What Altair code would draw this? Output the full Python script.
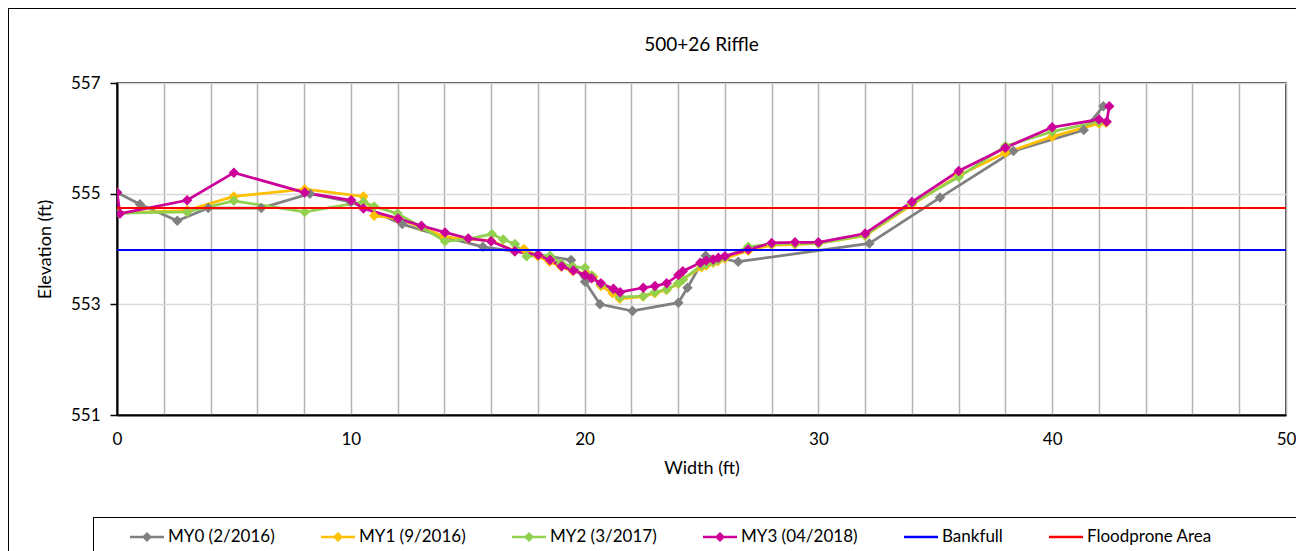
import altair as alt
import pandas as pd

# ---- data ----
my0_x = [0.0, 0.98, 2.58, 3.9, 6.17, 8.25, 10.0, 12.2, 14.0, 15.65, 17.0, 18.0, 19.42, 20.02, 20.66, 22.05, 24.01, 24.4, 25.18, 26.57, 32.18, 35.2, 38.34, 41.35, 42.19]
my0_y = [555.02, 554.81, 554.51, 554.74, 554.74, 555.0, 554.85, 554.45, 554.22, 554.04, 553.96, 553.9, 553.80, 553.41, 553.0, 552.88, 553.03, 553.3, 553.88, 553.77, 554.10, 554.93, 555.77, 556.15, 556.58]

my1_x = [0.1, 3.0, 5.0, 8.03, 10.54, 11.0, 12.0, 13.0, 14.0, 15.0, 16.0, 17.0, 17.4, 18.0, 18.5, 19.0, 19.5, 20.1, 20.37, 20.7, 21.2, 21.5, 22.5, 23.0, 23.5, 24.0, 24.2, 25.0, 25.2, 25.5, 25.7, 26.0, 27.0, 28.0, 29.0, 30.0, 32.0, 34.0, 36.0, 38.0, 40.0, 42.0, 42.3]
my1_y = [554.65, 554.70, 554.95, 555.08, 554.95, 554.60, 554.55, 554.40, 554.22, 554.18, 554.15, 553.97, 554.0, 553.87, 553.77, 553.68, 553.60, 553.55, 553.5, 553.33, 553.2, 553.1, 553.14, 553.2, 553.26, 553.37, 553.45, 553.67, 553.7, 553.75, 553.78, 553.83, 553.97, 554.07, 554.08, 554.1, 554.24, 554.8, 555.33, 555.74, 556.03, 556.27, 556.28]

my2_x = [0.1, 3.0, 5.0, 8.03, 10.54, 11.0, 12.0, 13.0, 14.03, 15.0, 16.03, 16.52, 17.02, 17.52, 18.52, 19.0, 19.5, 20.02, 20.3, 20.7, 21.23, 21.52, 22.51, 23.0, 23.51, 24.01, 24.2, 25.0, 25.2, 25.5, 25.7, 26.0, 27.0, 28.0, 29.0, 30.0, 32.0, 34.0, 36.0, 38.0, 40.0, 42.0]
my2_y = [554.65, 554.67, 554.87, 554.67, 554.85, 554.77, 554.64, 554.40, 554.14, 554.18, 554.27, 554.17, 554.09, 553.87, 553.88, 553.74, 553.68, 553.66, 553.52, 553.36, 553.27, 553.13, 553.15, 553.22, 553.27, 553.38, 553.45, 553.7, 553.73, 553.77, 553.8, 553.85, 554.04, 554.09, 554.1, 554.1, 554.25, 554.82, 555.3, 555.86, 556.12, 556.3]

my3_x = [0.0, 0.13, 3.0, 5.0, 8.03, 10.02, 10.54, 12.02, 13.02, 14.03, 15.03, 16.0, 17.02, 18.02, 18.52, 19.02, 19.52, 20.02, 20.3, 20.7, 21.23, 21.52, 22.51, 23.01, 23.51, 24.01, 24.2, 24.95, 25.2, 25.5, 25.72, 26.0, 27.0, 28.0, 29.0, 30.0, 32.0, 34.0, 36.0, 38.0, 40.0, 42.0, 42.33, 42.44]
my3_y = [555.02, 554.64, 554.88, 555.38, 555.02, 554.88, 554.73, 554.55, 554.42, 554.3, 554.19, 554.14, 553.96, 553.89, 553.80, 553.69, 553.61, 553.53, 553.47, 553.38, 553.28, 553.22, 553.30, 553.33, 553.38, 553.53, 553.6, 553.75, 553.79, 553.81, 553.84, 553.87, 553.99, 554.11, 554.12, 554.12, 554.28, 554.85, 555.41, 555.83, 556.2, 556.34, 556.30, 556.58]

series_names = ["MY0 (2/2016)", "MY1 (9/2016)", "MY2 (3/2017)", "MY3 (04/2018)"]
ref_names = ["Bankfull", "Floodprone Area"]
ref_values = [553.98, 554.74]
all_names = series_names + ref_names
colors = ["#808080", "#FFC000", "#92D050", "#CC0099", "#0000FF", "#FF0000"]

chart_title = ["500+26 Riffle"]
x_ticks = list(range(0, 51, 2))
y_ticks = [551, 553, 555, 557]

# ---- tables ----
rows = []
for name, xs, ys in zip(series_names, [my0_x, my1_x, my2_x, my3_x], [my0_y, my1_y, my2_y, my3_y]):
    for i, (a, b) in enumerate(zip(xs, ys)):
        rows.append({"series": name, "x": a, "y": b, "idx": i})
df = pd.DataFrame(rows)
ref_df = pd.DataFrame({"series": ref_names, "y": ref_values})
legend_df = pd.DataFrame({"series": all_names})
title_df = pd.DataFrame({"t": chart_title})

line_sym = "M-1,-0.08L1,-0.08L1,0.08L-1,0.08Z"
diam_sym = line_sym + "M0,-0.3L0.3,0L0,0.3L-0.3,0Z"
shapes = [diam_sym] * 4 + [line_sym] * 2

FONT = "Lato"

xscale = alt.Scale(domain=[0, 50], nice=False, zero=False)
yscale = alt.Scale(domain=[551, 557], nice=False, zero=False)
cscale = alt.Scale(domain=all_names, range=colors)
sscale = alt.Scale(domain=all_names, range=shapes)

xaxis = alt.Axis(values=x_ticks, labelExpr="datum.value % 10 == 0 ? datum.label : ''",
                 grid=True, gridColor="#b3b3b3", gridWidth=1.5, ticks=False,
                 domainColor="black", domainWidth=2, labelFontSize=17, labelColor="black",
                 labelPadding=16, title="Width (ft)", titleFontSize=18, titleFontWeight="normal",
                 titleColor="black", titlePadding=12, labelFlush=False)
yaxis = alt.Axis(values=y_ticks, format="d", grid=True, gridColor="#d9d9d9", gridWidth=1.5,
                 ticks=True, tickColor="black", tickSize=7, tickWidth=1.5,
                 domainColor="black", domainWidth=2, labelFontSize=17, labelColor="black",
                 labelPadding=10, title="Elevation (ft)", titleFontSize=18, titleFontWeight="normal",
                 titleColor="black", titlePadding=16)

legend_spec = alt.Legend(
    title=None, orient="none", legendX=13, legendY=437, direction="horizontal", padding=0,
    symbolSize=1156, symbolOpacity=1, symbolStrokeWidth=0, labelFontSize=17,
    labelFont=FONT, labelColor="black", columnPadding=46, labelOffset=4, labelLimit=300)

base = alt.Chart(df)

lines = base.mark_line(strokeWidth=2.75, clip=True).encode(
    x=alt.X("x:Q", scale=xscale, axis=xaxis),
    y=alt.Y("y:Q", scale=yscale, axis=yaxis),
    color=alt.Color("series:N", scale=cscale),
    detail="series:N",
    order="idx:Q",
)
points = base.mark_point(shape="diamond", filled=True, size=110, opacity=1, clip=True).encode(
    x=alt.X("x:Q", scale=xscale),
    y=alt.Y("y:Q", scale=yscale),
    color=alt.Color("series:N", scale=cscale),
)
rules = alt.Chart(ref_df).mark_rule(strokeWidth=2).encode(
    y=alt.Y("y:Q", scale=yscale),
    color=alt.Color("series:N", scale=cscale),
)
legend_layer = alt.Chart(legend_df).mark_point(filled=True, opacity=0).encode(
    x=alt.value(0), y=alt.value(0),
    color=alt.Color("series:N", scale=cscale, legend=legend_spec),
    shape=alt.Shape("series:N", scale=sscale, legend=legend_spec),
)

frame = alt.Chart(legend_df).mark_rect(fill=None, stroke="black", strokeWidth=1, clip=False).encode(
    x=alt.value(-108.5), x2=alt.value(1180.5), y=alt.value(-74.5), y2=alt.value(600))
legend_box = alt.Chart(legend_df).mark_rect(fill=None, stroke="black", strokeWidth=1, clip=False).encode(
    x=alt.value(-23.5), x2=alt.value(1179.5), y=alt.value(434.5), y2=alt.value(600))
title = alt.Chart(title_df).mark_text(fontSize=19, font=FONT, color="black", align="center",
                                      baseline="middle").encode(
    text="t:N", x=alt.value(584.5), y=alt.value(-38))

chart = alt.layer(legend_layer, frame, legend_box, lines, points, rules, title).properties(
    width=1169, height=332,
    autosize=alt.AutoSizeParams(type="none"),
    padding={"left": 109, "top": 75, "right": 10, "bottom": 150},
).configure(font=FONT).configure_axis(labelFont=FONT, titleFont=FONT).configure_view(
    stroke="black", strokeWidth=1.5
)

chart.save("out.html", embed_options={"renderer": "svg", "actions": False})
